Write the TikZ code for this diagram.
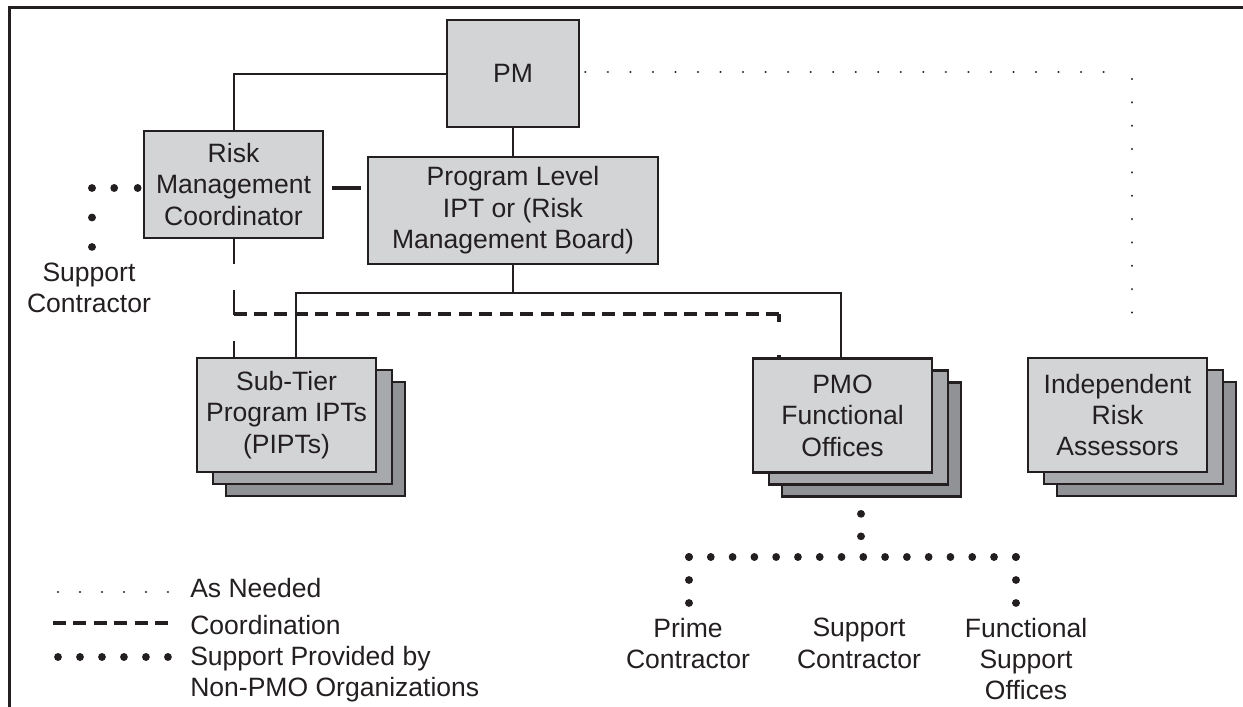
\documentclass[tikz,border=0pt]{standalone}
\usepackage{fontspec}
\setmainfont{Liberation Sans}
\usetikzlibrary{shadows,calc}
\definecolor{linec}{RGB}{35,31,32}
\definecolor{frontc}{RGB}{211,212,214}
\definecolor{midc}{RGB}{167,169,172}
\definecolor{backc}{RGB}{145,146,149}
\begin{document}
\begin{tikzpicture}[x=0.75pt,y=-0.75pt,
  every node/.style={text=linec, font=\fontsize{19.9}{23.6}\selectfont, align=center, inner sep=0pt},
  box/.style={draw=linec, line width=2pt, fill=frontc, inner sep=0pt},
  stackbox/.style={box, minimum width=134.25pt, minimum height=85.5pt,
     copy shadow={shadow xshift=21.75pt, shadow yshift=-18pt, fill=backc, draw=linec, line width=2pt},
     copy shadow={shadow xshift=12pt, shadow yshift=-9pt, fill=midc, draw=linec, line width=2pt}},
  conn/.style={draw=linec, line width=1.5pt},
  heavy/.style={draw=linec, line width=3pt},
  longdash/.style={draw=linec, line width=1.5pt, dash pattern=on 18.75pt off 19.5pt},
  coordln/.style={draw=linec, line width=2.6pt, dash pattern=on 9.75pt off 5.61pt},
  smalldots/.style={draw=linec, line width=1.8pt, line cap=round},
  bigdots/.style={draw=linec, line width=5.8pt, line cap=round},
  frame/.style={draw=linec, line width=2.25pt}
]
\useasboundingbox (0,0) rectangle (1243,707);

% frame
\draw[frame] (9,707) -- (9,7) -- (1243,7);

% nodes
\node[box, minimum width=99pt, minimum height=80.25pt] (pm) at (513,73.5) {PM};
\node[box, minimum width=134.25pt, minimum height=80.25pt] (rmc) at (233.5,184.5) {Risk\\Management\\Coordinator};
\node[box, minimum width=217.5pt, minimum height=80.25pt] (pl) at (513,210.5) {Program Level\\IPT or (Risk\\Management Board)};
\node[stackbox] (sub) at (286.5,415) {Sub-Tier\\Program IPTs\\(PIPTs)};
\node[stackbox] (pmo) at (842.5,415.5) {PMO\\Functional\\Offices};
\node[stackbox] (ira) at (1117.5,415) {Independent\\Risk\\Assessors};

% solid connectors
\draw[conn] (pm.west) -| (rmc.north);
\draw[conn] (pm.south) -- (pl.north);
\coordinate (busL) at (296,293);
\coordinate (busR) at (841,293);
\draw[conn] (pl.south) -- (pl.south |- busL);
\draw[conn] (sub.north -| busL) -- (busL) -- (busR) -- (pmo.north -| busR);
\draw[heavy] ($(rmc.east)+(8,3.5)$) -- ($(rmc.east -| pl.west)+(-6,3.5)$);

% coordination
\draw[longdash] (rmc.south) -- (sub.north -| rmc.south);
\coordinate (cL) at (233.5,314);
\coordinate (cR) at (779,314);
\draw[coordln] (cR) -- (cL);
\draw[draw=linec, line width=2.6pt, dash pattern=on 6pt off 24.75pt on 3pt] (cR) -- (pmo.north -| cR);

% as needed
\coordinate (an) at (1125,72);
\draw[smalldots, dash pattern=on 0.01pt off 16.89pt] ($(pm.east)+(5,-1.5)$) -- (an);
\draw[smalldots, dash pattern=on 0.01pt off 17.5pt] (1132,79) -- ($(ira.north)+(14.5,-22)$);

% support contractor (left)
\coordinate (sc1) at (92,188);
\draw[bigdots, dash pattern=on 0.01pt off 17.6pt] ($(rmc.west)+(-5,3.5)$) -- (sc1);
\draw[bigdots, dash pattern=on 0.01pt off 22.1pt] (sc1) -- (92,247);
\node (sc) at (89,288) {Support\\Contractor};

% support from PMO
\coordinate (pd) at (861,557);
\coordinate (pdl) at (689,557);
\coordinate (pdr) at (1016,557);
\draw[bigdots, dash pattern=on 0.01pt off 16.85pt] ($(pmo.south)+(18.5,40)$) -- (pd);
\draw[bigdots, dash pattern=on 0.01pt off 16.33pt] (pdl) -- (pdr);
\draw[bigdots, dash pattern=on 0.01pt off 17.23pt] (pdl) -- (689,603);
\draw[bigdots, dash pattern=on 0.01pt off 17.23pt] (pdr) -- (1016,603);
\node (prime) at (688,643.5) {Prime\\Contractor};
\node (supc) at (859,643.5) {Support\\Contractor};
\node (fso) at (1026,659) {Functional\\Support\\Offices};

% legend
\draw[smalldots, dash pattern=on 0.01pt off 16.48pt] (58,592) -- (168,592);
\node[anchor=west] (l1) at (190,588) {As Needed};
\draw[coordln] (53,623) -- (169,623);
\node[anchor=west] (l2) at (190,625) {Coordination};
\draw[bigdots, dash pattern=on 0.01pt off 16.48pt] (58,657) -- (168,657);
\node[anchor=west, align=left] (l3) at (190,674) {Support Provided by\\Non-PMO Organizations};
\end{tikzpicture}
\end{document}
